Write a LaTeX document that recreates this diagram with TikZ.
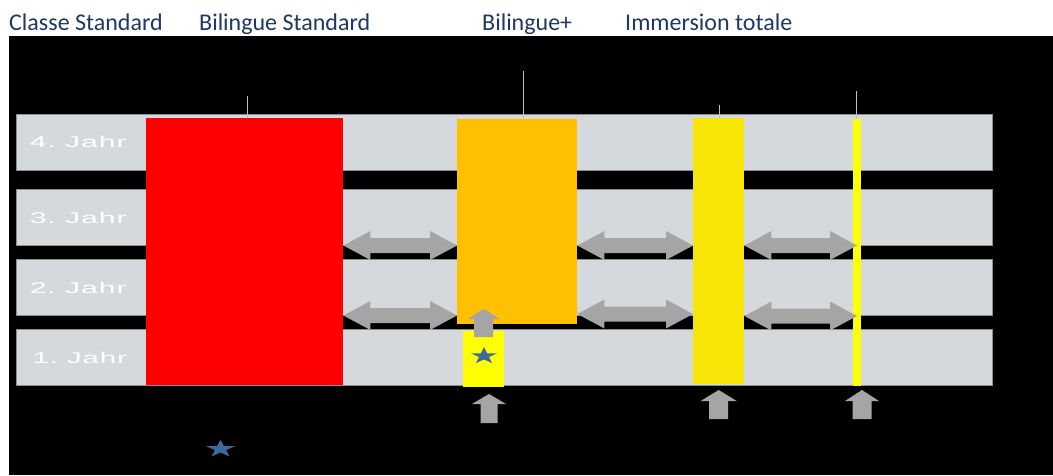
\documentclass[tikz,border=0pt]{standalone}
\usepackage{fontspec}
\usepackage{graphicx}
\setmainfont{Carlito}
\newfontfamily\rowfont[LetterSpace=3]{Liberation Sans}
\usetikzlibrary{calc,shapes.geometric}
\definecolor{headtext}{HTML}{1F3864}
\definecolor{bargray}{HTML}{D5D9DD}
\definecolor{barline}{HTML}{8A8D90}
\definecolor{arrowgray}{HTML}{A5A5A5}
\definecolor{bporange}{HTML}{FFC000}
\definecolor{immyellow}{HTML}{F8E508}
\definecolor{pureyellow}{HTML}{FFFF00}
\definecolor{starblue}{HTML}{3E6A9A}
\definecolor{tickgray}{HTML}{C0C0C0}
\newcommand\dblarr[2]{%
  \fill[arrowgray] let \p1=(#1), \p2=(#2) in
   (\x1,\y1) -- (\x1+27pt,\y1+14.5pt) -- (\x1+27pt,\y1+7.5pt) -- (\x2-27pt,\y1+7.5pt)
   -- (\x2-27pt,\y1+14.5pt) -- (\x2,\y1) -- (\x2-27pt,\y1-14.5pt) -- (\x2-27pt,\y1-7.5pt)
   -- (\x1+27pt,\y1-7.5pt) -- (\x1+27pt,\y1-14.5pt) -- cycle;}
% tip, head half width, head length, shaft half width, total length
\newcommand\uparr[5]{%
  \fill[arrowgray] let \p1=(#1) in
   (\x1,\y1) -- (\x1+#2,\y1-#3) -- (\x1+#4,\y1-#3) -- (\x1+#4,\y1-#5)
   -- (\x1-#4,\y1-#5) -- (\x1-#4,\y1-#3) -- (\x1-#2,\y1-#3) -- cycle;}
\tikzset{
  bar/.style={fill=bargray, draw=barline, line width=0.6pt, anchor=north west,
    inner sep=0pt, minimum width=976pt, minimum height=56pt},
  block/.style={anchor=north west, inner sep=0pt, draw=none},
  heading/.style={anchor=base west, inner sep=0pt, text=headtext,
    font=\fontsize{24}{28}\selectfont},
  rowlabel/.style={anchor=base east, inner sep=0pt, text=white},
  tick/.style={draw=tickgray, line width=1pt},
  starshape/.style={star, star points=5, star point ratio=2.6, fill=starblue,
    draw=none, inner sep=0pt, transform shape},
}
\begin{document}
\begin{tikzpicture}[x=1pt,y=-1pt]
\useasboundingbox (0,0) rectangle (1053,475);
\fill[white] (0,0) rectangle (1053,475);
\fill[black] (9,36) rectangle (1053,475);
% headings
\node[heading] (h1) at (9,30) {Classe Standard};
\node[heading] (h2) at (199,30) {Bilingue Standard};
\node[heading] (h3) at (482,30) {Bilingue+};
\node[heading] (h4) at (625,30) {Immersion totale};
% year bars
\node[bar] (r4) at (16,114) {};
\node[bar] (r3) at (16,189) {};
\node[bar] (r2) at (16,259) {};
\node[bar] (r1) at (16,329) {};
\node[rowlabel] at (127,147) {\resizebox{97pt}{\height}{\fontsize{15.5}{18}\rowfont 4.\ Jahr}};
\node[rowlabel] at (127,223) {\resizebox{97pt}{\height}{\fontsize{15.5}{18}\rowfont 3.\ Jahr}};
\node[rowlabel] at (127,293) {\resizebox{97pt}{\height}{\fontsize{15.5}{18}\rowfont 2.\ Jahr}};
\node[rowlabel] at (127,363) {\resizebox{94pt}{\height}{\fontsize{15.5}{18}\rowfont 1.\ Jahr}};
% programme blocks
\node[block, fill=red, minimum width=197pt, minimum height=267pt] (red) at (146,118) {};
\node[block, fill=bporange, minimum width=120pt, minimum height=205pt] (orange) at (457,119) {};
\node[block, fill=pureyellow, minimum width=41pt, minimum height=56pt] (small) at (463,331) {};
\node[block, fill=immyellow, minimum width=51pt, minimum height=266pt] (imm) at (693,118) {};
\node[block, fill=pureyellow, minimum width=8pt, minimum height=267pt] (thin) at (853,119) {};
% ticks
\draw[tick] (red.north) ++(2.5,0) -- ++(0,-22);
\draw[tick] (orange.north) ++(6,0) -- ++(0,-48);
\draw[tick] (imm.north) ++(0.5,0) -- ++(0,-13);
\draw[tick] (thin.north) ++(-1,0) -- ++(0,-28);
% double arrows
\dblarr{red.east |- 0,245.5}{orange.west |- 0,245.5}
\dblarr{red.east |- 0,315.5}{orange.west |- 0,315.5}
\dblarr{orange.east |- 0,245.5}{imm.west |- 0,245.5}
\dblarr{orange.east |- 0,314}{imm.west |- 0,314}
\dblarr{imm.east |- 0,245.5}{857,245.5}
\dblarr{imm.east |- 0,316}{857,316}
% up arrows
\coordinate (a0) at ($(small.north)+(0,-22)$);
\uparr{a0}{16pt}{10pt}{9.5pt}{28pt}
\coordinate (a1) at (489,394);
\uparr{a1}{17pt}{10pt}{8.5pt}{29pt}
\coordinate (a2) at (imm.south |- 0,390);
\uparr{a2}{18pt}{11pt}{9.5pt}{29pt}
\coordinate (a3) at (862,390);
\uparr{a3}{17pt}{11pt}{9.5pt}{29pt}
% stars
\begin{scope}[shift={(484,356)}, yscale=0.645]
\node[starshape, minimum size=27.4pt] (s1) at (0,0) {};
\end{scope}
\begin{scope}[shift={(220.5,449)}, yscale=0.6]
\node[starshape, minimum size=30.4pt] (s2) at (0,0) {};
\end{scope}
\end{tikzpicture}
\end{document}
